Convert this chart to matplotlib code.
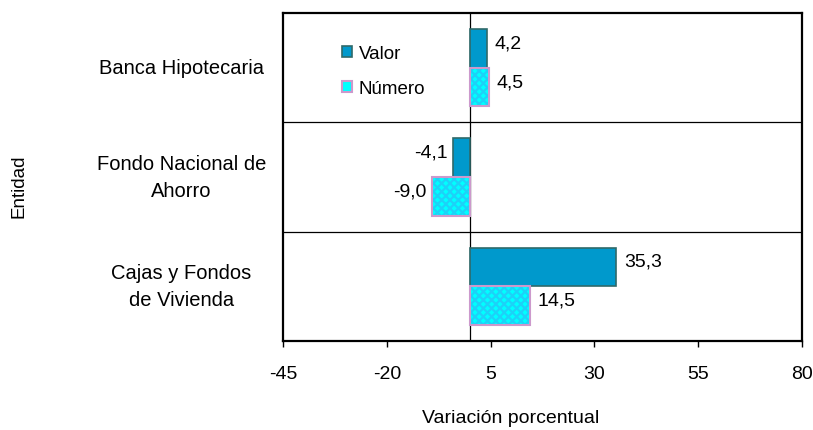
import matplotlib
matplotlib.use("Agg")
import matplotlib.pyplot as plt
import numpy as np
from matplotlib.patches import Patch

plt.rcParams['font.family'] = ['Liberation Sans', 'DejaVu Sans']
plt.rcParams['axes.unicode_minus'] = False
plt.rcParams['hatch.linewidth'] = 1.6

categories = ["Banca Hipotecaria", "Fondo Nacional de\nAhorro", "Cajas y Fondos\nde Vivienda"]
valor = [4.2, -4.1, 35.3]
numero = [4.5, -9.0, 14.5]
xticks = [-45, -20, 5, 30, 55, 80]
series_names = ["Valor", "Número"]

FS = 14

def fmt(v):
    return f"{v:.1f}".replace(".", ",")

fig = plt.figure(figsize=(8.13, 4.31), dpi=100)
ax = fig.add_axes([283/813, 1-342/431, (802-283)/813, (342-14)/431])

n = len(categories)
pos = np.arange(n)[::-1]  # top to bottom
h = 0.355

ax.barh(pos + h/2, valor, height=h, color="#0099CC", edgecolor="#2F6A6A", linewidth=1.2, zorder=3)
# hatched fill for Numero
ax.barh(pos - h/2, numero, height=h, color="#00FFFF", edgecolor="#1DD2F8", hatch="xxxx", linewidth=0, zorder=3)
ax.barh(pos - h/2, numero, height=h, color="none", edgecolor="#CC99CC", linewidth=1.5, zorder=4)

for series, off in ((valor, h/2), (numero, -h/2)):
    for p, v in zip(pos + off, series):
        ax.annotate(fmt(v), (v, p), xytext=(5.5 if v >= 0 else -4, 4), textcoords="offset points",
                    ha="left" if v >= 0 else "right", va="center", fontsize=FS)

ax.set_xlim(xticks[0], xticks[-1])
ax.set_ylim(-0.5, n - 0.5)
ax.set_xticks(xticks)
ax.set_xticklabels([str(t) for t in xticks], fontsize=FS)
ax.set_yticks(pos)
ax.set_yticklabels(categories, fontsize=14.5, ha="center", va="center",
                   multialignment="center", linespacing=1.55)
ax.tick_params(axis="y", length=0, pad=73)
ax.tick_params(axis="x", direction="out", length=4, width=1, pad=13.5)

ax.axvline(0, color="black", linewidth=0.9, zorder=2)
for b in np.arange(0.5, n - 0.5, 1.0):
    ax.axhline(b, color="black", linewidth=0.9, zorder=1)

for s in ax.spines.values():
    s.set_linewidth(1.6)
    s.set_color("black")

handles = [Patch(facecolor="#0099CC", edgecolor="#2F6A6A", linewidth=1.2),
           Patch(facecolor="#00FFFF", edgecolor="#CC99CC", linewidth=1.5)]
leg = ax.legend(handles, series_names, loc="upper left", bbox_to_anchor=(0.1137, 0.903),
                frameon=False, fontsize=13.5, handlelength=0.55, handleheight=0.55,
                handletextpad=0.35, labelspacing=0.98, borderpad=0, borderaxespad=0)

fig.text(511/813, 1-419/431, "Variación porcentual", ha="center", va="center", fontsize=FS)
fig.text(19/813, 1-186/431, "Entidad", ha="center", va="center", rotation=90, fontsize=13.5)

fig.savefig("out.png", dpi=100)
